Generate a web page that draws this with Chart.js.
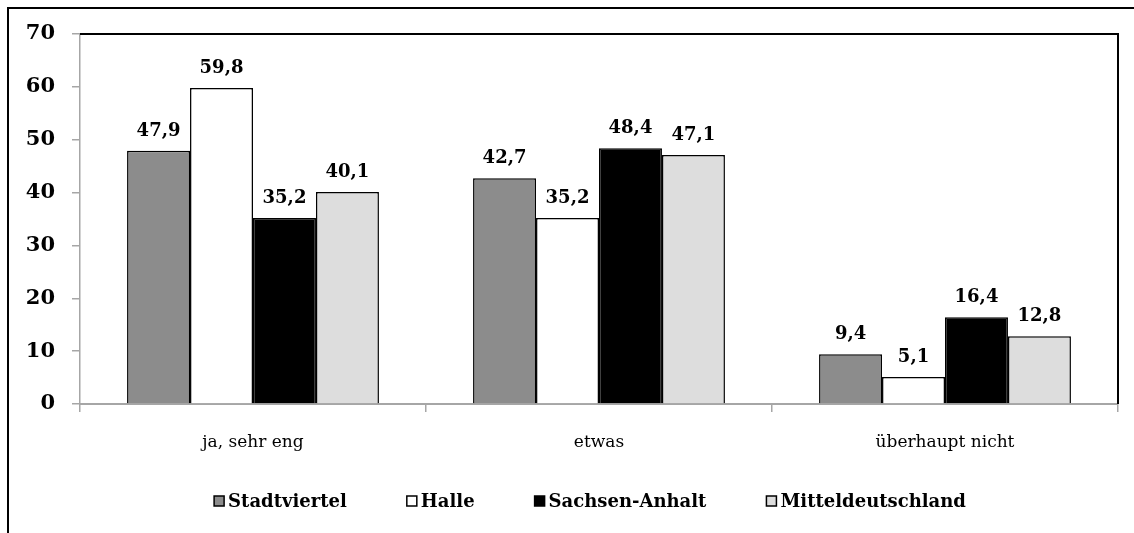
<!DOCTYPE html>
<html>
<head>
<meta charset="utf-8">
<script src="https://cdn.jsdelivr.net/npm/chart.js@4/dist/chart.umd.min.js"></script>
<style>
  html, body { margin: 0; padding: 0; background: #fff; }
  #wrap { width: 1134px; height: 533px; }
</style>
</head>
<body>
<div id="wrap"><canvas id="chart" width="1134" height="533"></canvas></div>
<script>
'use strict';

// Categories on the x axis
const categories = ['ja, sehr eng', 'etwas', 'überhaupt nicht'];

// Series names (legend)
const seriesNames = ['Stadtviertel', 'Halle', 'Sachsen-Anhalt', 'Mitteldeutschland'];

// Series values, one per category
const stadtviertel = [47.9, 42.7, 9.4];
const halle = [59.8, 35.2, 5.1];
const sachsenAnhalt = [35.2, 48.4, 16.4];
const mitteldeutschland = [40.1, 47.1, 12.8];

// Y axis range
const yMin = 0;
const yMax = 70;
const yStep = 10;

// Fill colours of the series
const seriesColors = ['#8c8c8c', '#ffffff', '#000000', '#dddddd'];

const FONT = 'DejaVu Serif';
const seriesValues = [stadtviertel, halle, sachsenAnhalt, mitteldeutschland];

// White background + outer frame + top/right plot border
const framePlugin = {
  id: 'frame',
  beforeDraw(chart) {
    const { ctx } = chart;
    ctx.save();
    ctx.fillStyle = '#fff';
    ctx.fillRect(0, 0, chart.width, chart.height);
    ctx.strokeStyle = '#000';
    ctx.lineWidth = 2;
    ctx.strokeRect(8, 8, 2000, 2000);
    ctx.restore();
  },
  afterDraw(chart) {
    const { ctx, chartArea } = chart;
    ctx.save();
    ctx.strokeStyle = '#000';
    ctx.lineWidth = 2;
    ctx.beginPath();
    ctx.moveTo(chartArea.left, chartArea.top);
    ctx.lineTo(chartArea.right, chartArea.top);
    ctx.lineTo(chartArea.right, chartArea.bottom);
    ctx.stroke();
    ctx.restore();
  }
};

// Value labels above each bar (German decimal comma)
const valueLabels = {
  id: 'valueLabels',
  afterDatasetsDraw(chart) {
    const { ctx } = chart;
    ctx.save();
    ctx.font = 'bold 18px "' + FONT + '"';
    ctx.fillStyle = '#000';
    ctx.textAlign = 'center';
    ctx.textBaseline = 'alphabetic';
    chart.data.datasets.forEach((ds, i) => {
      chart.getDatasetMeta(i).data.forEach((bar, j) => {
        const txt = ds.data[j].toFixed(1).replace('.', ',');
        ctx.fillText(txt, bar.x, bar.y - 15);
      });
    });
    ctx.restore();
  }
};

// Legend drawn by hand so the boxes sit right next to the text
const legendRow = {
  id: 'legendRow',
  afterDraw(chart) {
    const { ctx } = chart;
    const baseline = 507;
    const box = 10;
    const textGap = 4;
    const gap = 60;
    ctx.save();
    ctx.font = 'bold 18px "' + FONT + '"';
    ctx.textBaseline = 'alphabetic';
    const widths = chart.data.datasets.map(ds => box + textGap + ctx.measureText(ds.label).width);
    const total = widths.reduce((a, b) => a + b, 0) + gap * (widths.length - 1);
    let x = 590 - total / 2;
    chart.data.datasets.forEach((ds, i) => {
      ctx.fillStyle = ds.backgroundColor;
      ctx.fillRect(x, baseline - 11, box, box);
      ctx.strokeStyle = '#000';
      ctx.lineWidth = 1.5;
      ctx.strokeRect(x, baseline - 11, box, box);
      ctx.fillStyle = '#000';
      ctx.fillText(ds.label, x + box + textGap, baseline);
      x += widths[i] + gap;
    });
    ctx.restore();
  }
};

const configuration = {
  type: 'bar',
  data: {
    labels: categories,
    datasets: seriesNames.map((name, i) => ({
      label: name,
      data: seriesValues[i],
      backgroundColor: seriesColors[i],
      borderColor: '#000',
      borderWidth: 1.5,
      categoryPercentage: 0.728,
      barPercentage: 1
    }))
  },
  options: {
    responsive: false,
    animation: false,
    plugins: {
      legend: { display: false },
      title: { display: false },
      tooltip: { enabled: false }
    },
    layout: {
      padding: { left: 0, top: 34, right: 16, bottom: 79 }
    },
    scales: {
      x: {
        grid: {
          offset: true,
          drawOnChartArea: false,
          color: '#a6a6a6',
          tickLength: 8,
          lineWidth: 1.5
        },
        border: { color: '#a6a6a6', width: 2 },
        ticks: {
          color: '#000',
          padding: 20,
          font: { family: FONT, size: 17 }
        },
        afterFit(scale) { scale.height = 50; }
      },
      y: {
        min: yMin,
        max: yMax,
        grid: {
          drawOnChartArea: false,
          color: '#a6a6a6',
          tickLength: 8,
          lineWidth: 1.5
        },
        border: { color: '#a6a6a6', width: 1.5 },
        ticks: {
          stepSize: yStep,
          color: '#000',
          padding: 17,
          font: { family: FONT, size: 21, weight: 'bold' }
        },
        afterFit(scale) { scale.width = 80; }
      }
    }
  },
  plugins: [framePlugin, valueLabels, legendRow]
};

new Chart(document.getElementById('chart').getContext('2d'), configuration);
</script>
</body>
</html>
